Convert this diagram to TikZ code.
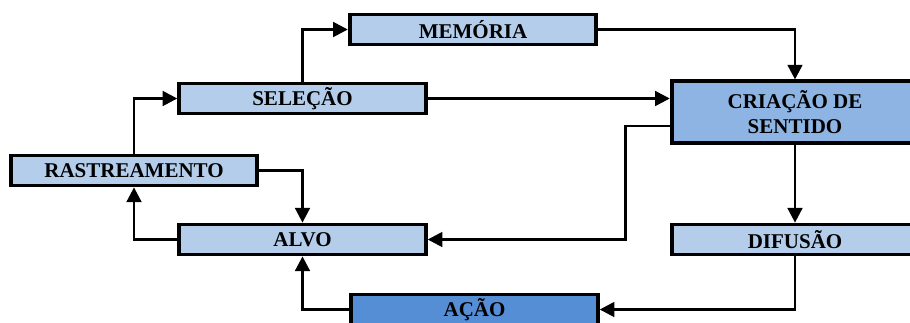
\documentclass[tikz,border=0pt]{standalone}
\usepackage{fontspec}
\setmainfont{Liberation Serif}
\usetikzlibrary{arrows.meta,calc}
\definecolor{boxlight}{RGB}{179,205,235}
\definecolor{boxmid}{RGB}{141,180,226}
\definecolor{boxdark}{RGB}{85,142,213}
\begin{document}
\begin{tikzpicture}[x=0.75pt,y=-0.75pt,
  stage/.style={draw=black,line width=2.8pt,fill=boxlight,rectangle,
    minimum width=185pt,minimum height=22.5pt,inner sep=0pt,
    font=\fontsize{15.75}{18.75}\selectfont\bfseries,align=center},
  flow/.style={line width=2pt,-{Triangle[length=11pt,width=11pt]}}]
  \useasboundingbox (0,0) rectangle (910,322);
  \clip (0,0) rectangle (910,322);

  \node[stage] (mem)  at (473,29.5)    {MEMÓRIA};
  \node[stage] (sel)  at (302.5,98.5)  {SELEÇÃO};
  \node[stage] (rast) at (134,170.5)   {RASTREAMENTO};
  \node[stage] (alvo) at (302.5,239.5) {ALVO};
  \node[stage,fill=boxdark] (acao) at (474.5,309.5) {AÇÃO};
  \node[stage,fill=boxmid,minimum height=46pt] (cria) at (795,112) {CRIAÇÃO DE\\SENTIDO};
  \node[stage] (dif)  at (795,239.5)   {DIFUSÃO};

  \coordinate (criaout) at ($(cria.west)+(0,14)$);

  \draw[flow] (rast.north) |- (sel.west);
  \draw[flow] (sel.north) |- (mem.west);
  \draw[flow] (sel.east) -- (cria.west |- sel.east);
  \draw[flow] (mem.east) -| (cria.north);
  \draw[flow] (criaout) -- ++(-44,0) |- (alvo.east);
  \draw[flow] (cria.south) -- (dif.north);
  \draw[flow] (dif.south) |- (acao.east);
  \draw[flow] (acao.west) -| (alvo.south);
  \draw[flow] (alvo.west) -| (rast.south);
  \draw[flow] (rast.east) -| (alvo.north);
\end{tikzpicture}
\end{document}
